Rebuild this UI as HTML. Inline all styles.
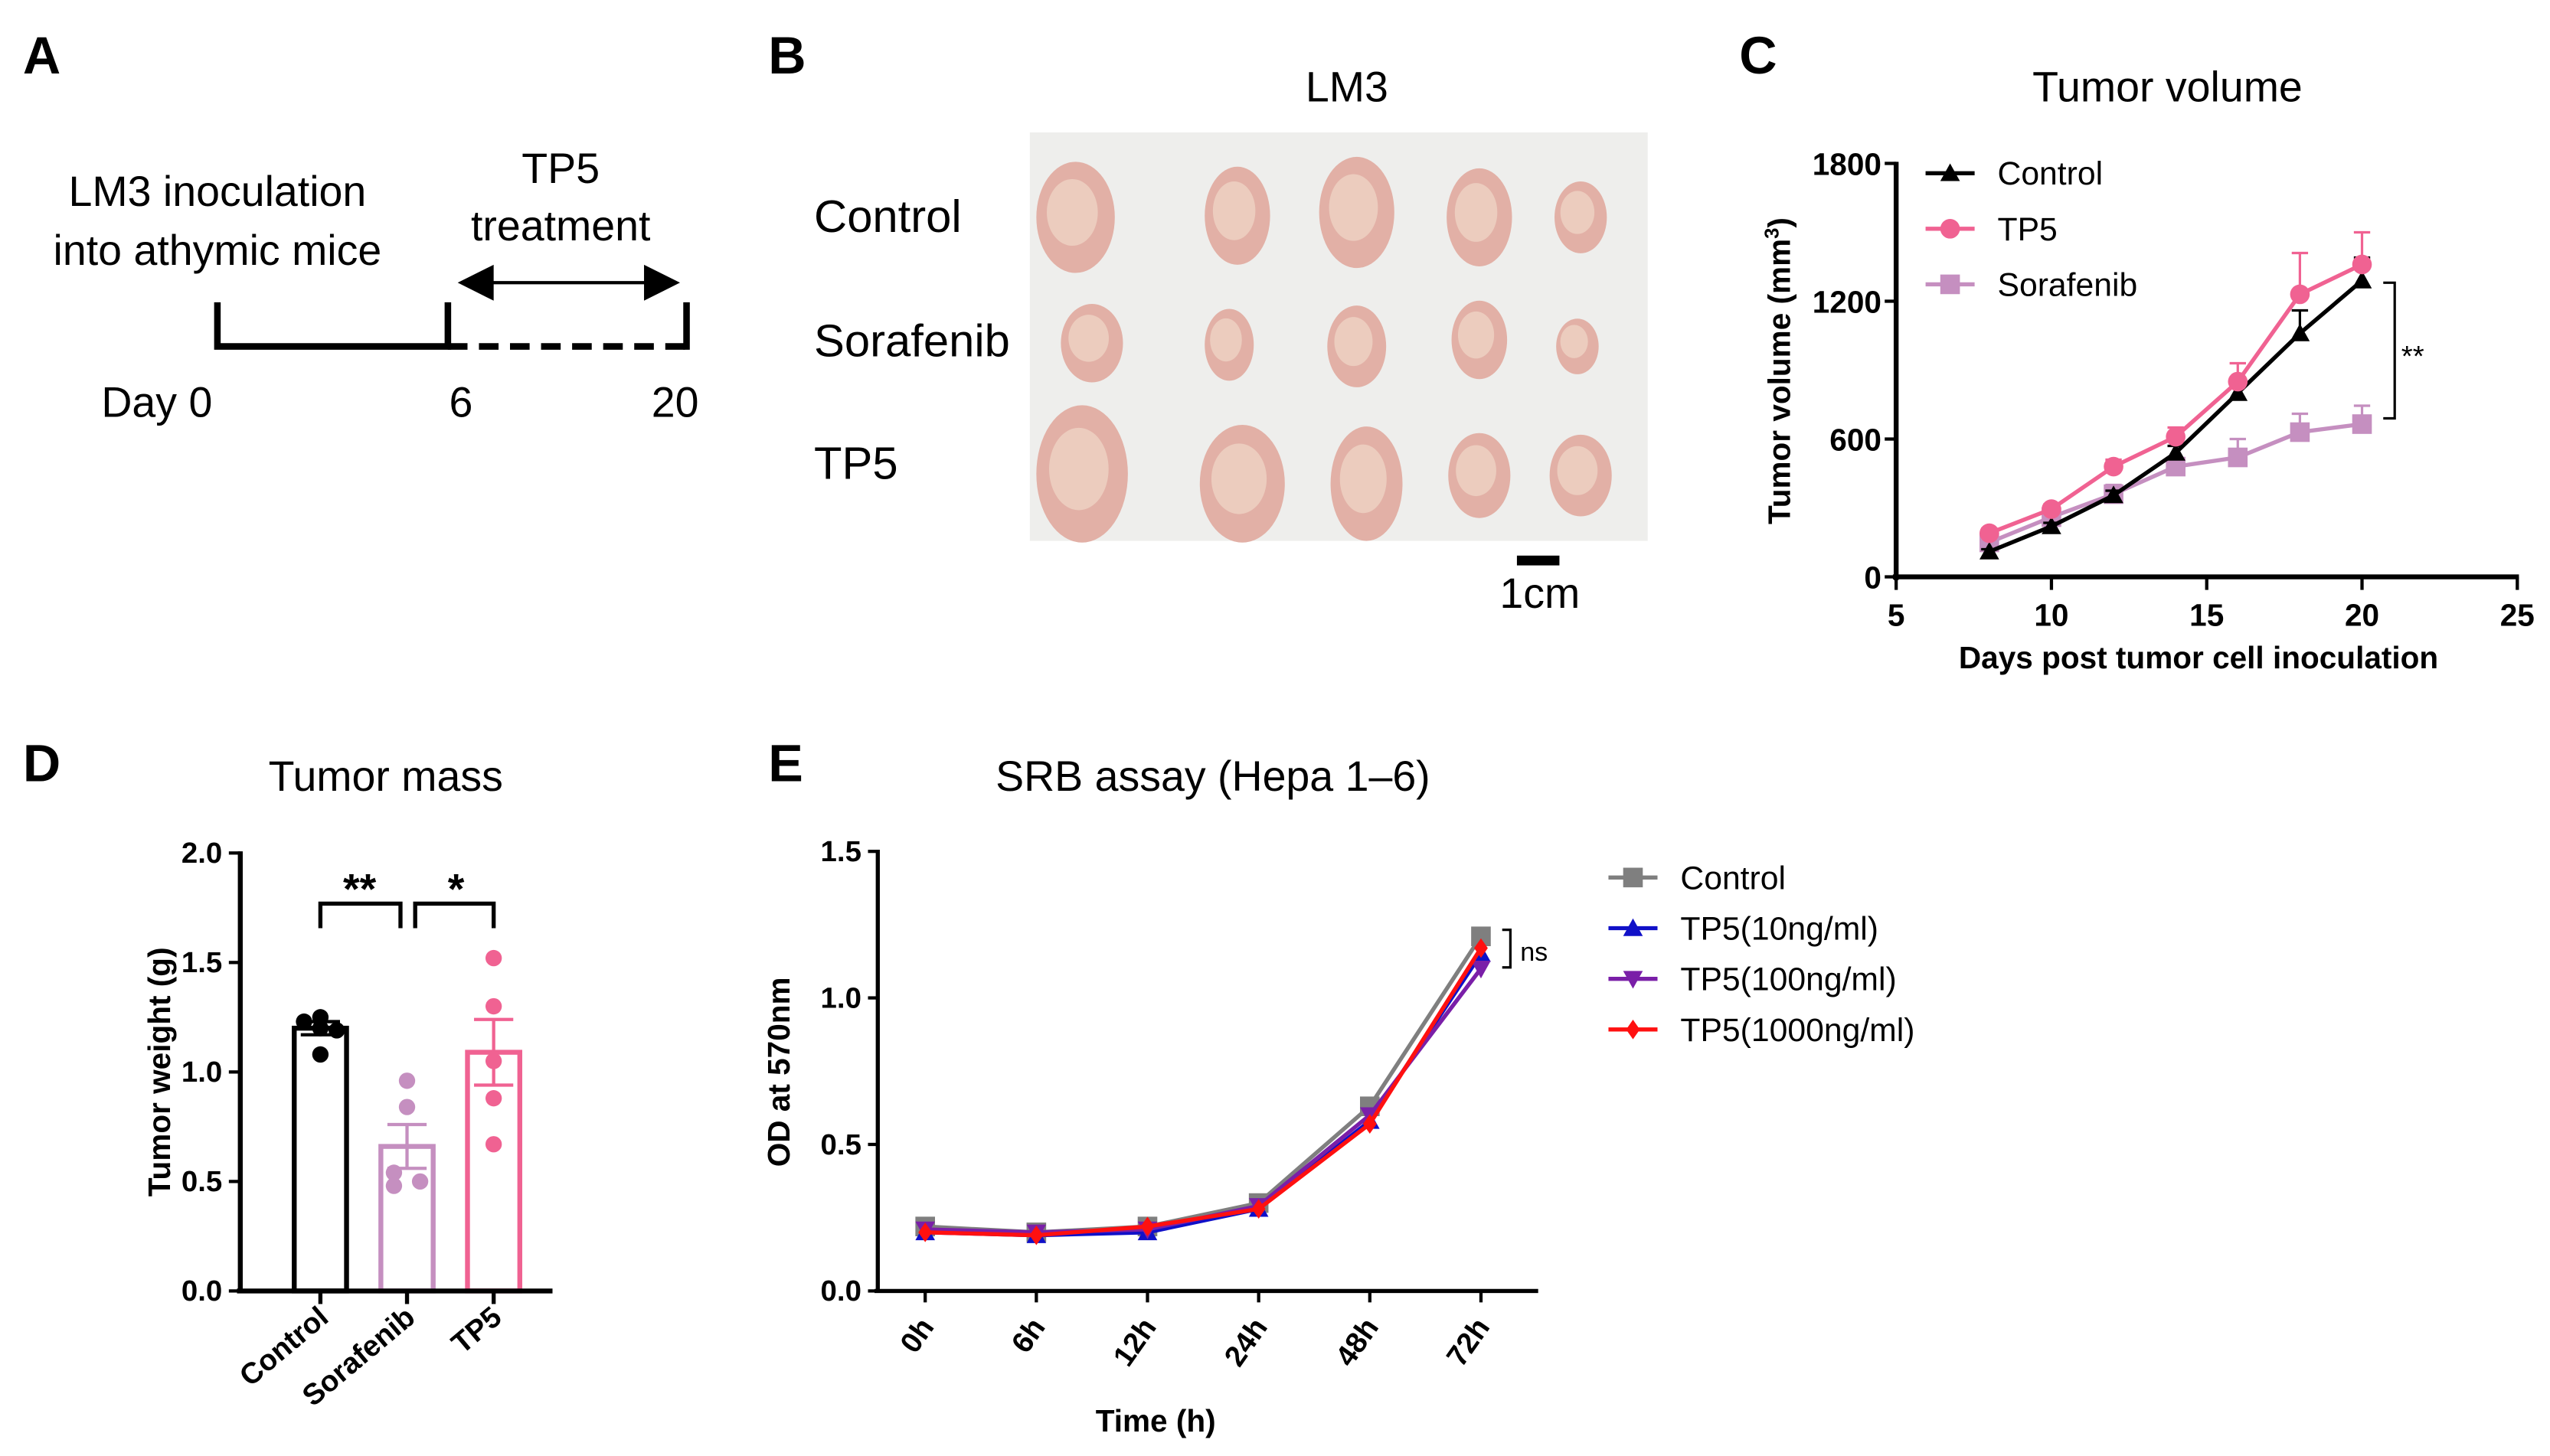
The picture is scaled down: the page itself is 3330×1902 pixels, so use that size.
<!DOCTYPE html>
<html><head><meta charset="utf-8"><style>
html,body{margin:0;padding:0;background:#fff}
svg{display:block}
text{font-family:"Liberation Sans",Arial,sans-serif}
</style></head><body>
<svg id="fig" width="3330" height="1902" viewBox="0 0 1560 891" preserveAspectRatio="none" xmlns="http://www.w3.org/2000/svg">
<rect width="1560" height="891" fill="#fff"/>
<!-- Panel A -->
<g>
<text x="14" y="45" font-size="32" font-weight="bold">A</text>
<text x="133" y="126" font-size="26" text-anchor="middle">LM3 inoculation</text>
<text x="133" y="162" font-size="26" text-anchor="middle">into athymic mice</text>
<text x="343" y="112" font-size="26" text-anchor="middle">TP5</text>
<text x="343" y="147" font-size="26" text-anchor="middle">treatment</text>
<path d="M133 185 V212 H274 V185" fill="none" stroke="#000" stroke-width="4"/>
<path d="M274 212 H420" fill="none" stroke="#000" stroke-width="4" stroke-dasharray="12,7"/>
<line x1="420" y1="185" x2="420" y2="214" stroke="#000" stroke-width="4"/>
<line x1="295" y1="173" x2="398" y2="173" stroke="#000" stroke-width="2"/>
<polygon points="280,173 302,162 302,184" fill="#000"/>
<polygon points="416,173 394,162 394,184" fill="#000"/>
<text x="62" y="255" font-size="26">Day 0</text>
<text x="282" y="255" font-size="26" text-anchor="middle">6</text>
<text x="413" y="255" font-size="26" text-anchor="middle">20</text>
</g>
<!-- Panel B -->
<g>
<text x="470" y="45" font-size="32" font-weight="bold">B</text>
<text x="824" y="62" font-size="26" text-anchor="middle">LM3</text>
<text x="498" y="142" font-size="28">Control</text>
<text x="498" y="218" font-size="28">Sorafenib</text>
<text x="498" y="293" font-size="28">TP5</text>
<rect x="630" y="81" width="378" height="250" fill="#eeeeec"/>
<g id="tumors"></g>
<rect x="928" y="340" width="26" height="6" fill="#000"/>
<text x="942" y="372" font-size="26" text-anchor="middle">1cm</text>
</g>
<!-- Panel C -->
<g id="pc">
<text x="1064" y="45" font-size="32" font-weight="bold">C</text>
<text x="1326" y="62" font-size="26" text-anchor="middle">Tumor volume</text>
<text transform="translate(1095,227) rotate(-90)" font-size="19" font-weight="bold" text-anchor="middle">Tumor volume (mm<tspan font-size="12" dy="-7">3</tspan><tspan dy="7">)</tspan></text>
<text x="1345" y="409" font-size="19" font-weight="bold" text-anchor="middle">Days post tumor cell inoculation</text>
</g>
<!-- Panel D -->
<g id="pd">
<text x="14" y="478" font-size="32" font-weight="bold">D</text>
<text x="236" y="484" font-size="26" text-anchor="middle">Tumor mass</text>
<text transform="translate(104,656) rotate(-90)" font-size="19" font-weight="bold" text-anchor="middle">Tumor weight (g)</text>
</g>
<!-- Panel E -->
<g id="pe">
<text x="470" y="478" font-size="32" font-weight="bold">E</text>
<text x="742" y="484" font-size="26" text-anchor="middle">SRB assay (Hepa 1–6)</text>
<text transform="translate(483,656) rotate(-90)" font-size="19" font-weight="bold" text-anchor="middle">OD at 570nm</text>
<text x="707" y="876" font-size="19" font-weight="bold" text-anchor="middle">Time (h)</text>
</g>
</svg>
<script>
// Panel C data
const cDays=[8,10,12,14,16,18,20];
const cControl=[110,220,355,540,800,1060,1290];
const cControlErr=[10,15,20,30,30,100,100];
const cTP5=[190,295,480,610,850,1230,1360];
const cTP5Err=[20,20,30,40,80,180,140];
const cSora=[150,260,360,480,520,630,665];
const cSoraErr=[20,20,40,30,80,80,80];
const cYTicks=[0,600,1200,1800];
const cXTicks=[5,10,15,20,25];
// Panel D data
const dGroups=["Control","Sorafenib","TP5"];
const dMeans=[1.2,0.66,1.09];
const dSem=[0.03,0.1,0.15];
const dDots=[[1.23,1.25,1.19,1.2,1.08],[0.96,0.84,0.54,0.48,0.5],[1.52,1.3,1.05,0.88,0.67]];
const dYTicks=[0,0.5,1.0,1.5,2.0];
// Panel E data
const eTimes=["0h","6h","12h","24h","48h","72h"];
const eControl=[0.22,0.2,0.22,0.3,0.63,1.21];
const eTP10=[0.2,0.19,0.2,0.28,0.58,1.15];
const eTP100=[0.21,0.2,0.21,0.29,0.6,1.1];
const eTP1000=[0.2,0.19,0.22,0.28,0.57,1.17];
const eYTicks=[0.0,0.5,1.0,1.5];

const NS="http://www.w3.org/2000/svg";
function mk(parent,tag,attrs,txt){const e=document.createElementNS(NS,tag);for(const k in attrs)e.setAttribute(k,attrs[k]);if(txt!==undefined)e.textContent=txt;parent.appendChild(e);return e;}

// tumors (photo decoration)
const tg=document.getElementById('tumors');
const tum=[[658,133,24,34],[757,132,20,30],[830,130,23,34],[905,133,20,30],[967,133,16,22],
[668,210,19,24],[752,211,15,22],[830,212,18,25],[905,208,17,24],[965,212,13,17],
[662,290,28,42],[760,296,26,36],[836,296,22,35],[905,291,19,26],[967,291,19,25]];
tum.forEach(t=>{const e=mk(tg,'ellipse',{cx:t[0],cy:t[1],rx:t[2],ry:t[3],fill:'#e2b0a6'});


const h=mk(tg,'ellipse',{cx:t[0]-2,cy:t[1]-3,rx:t[2]*0.65,ry:t[3]*0.6,fill:'#ecccbe'});

});

function marker(p,x,y,shape,col,r){
 if(shape==='sq')mk(p,'rect',{x:x-r,y:y-r,width:2*r,height:2*r,fill:col});
 else if(shape==='circ')mk(p,'circle',{cx:x,cy:y,r:r,fill:col});
 else if(shape==='tri')mk(p,'polygon',{points:`${x},${y-r} ${x-r},${y+r*0.8} ${x+r},${y+r*0.8}`,fill:col});
 else if(shape==='itri')mk(p,'polygon',{points:`${x},${y+r} ${x-r},${y-r*0.8} ${x+r},${y-r*0.8}`,fill:col});
 else if(shape==='dia')mk(p,'polygon',{points:`${x},${y-r} ${x-r*0.7},${y} ${x},${y+r} ${x+r*0.7},${y}`,fill:col});
}

// Panel C
(function(){
const g=document.getElementById('pc');
const X=d=>1160+(d-5)*(380/20), Y=v=>353-v*(253/1800);
mk(g,'line',{x1:1160,y1:99,x2:1160,y2:355,stroke:'#000','stroke-width':3});
mk(g,'line',{x1:1158,y1:353,x2:1541,y2:353,stroke:'#000','stroke-width':3});
cYTicks.forEach(v=>{mk(g,'line',{x1:1153,y1:Y(v),x2:1160,y2:Y(v),stroke:'#000','stroke-width':2});
const t=mk(g,'text',{x:1151,y:Y(v)+7,'font-size':19,'font-weight':'bold','text-anchor':'end'},v);

});
cXTicks.forEach(v=>{mk(g,'line',{x1:X(v),y1:353,x2:X(v),y2:361,stroke:'#000','stroke-width':2});
const t=mk(g,'text',{x:X(v),y:383,'font-size':19,'font-weight':'bold','text-anchor':'middle'},v);

});
function series(vals,errs,col,shape,name){
 const sg=mk(g,'g',{});
 
 
 vals.forEach((v,i)=>{const x=X(cDays[i]),y=Y(v),ye=Y(v+errs[i]);
  mk(sg,'line',{x1:x,y1:y,x2:x,y2:ye,stroke:col,'stroke-width':1.5});
  mk(sg,'line',{x1:x-5,y1:ye,x2:x+5,y2:ye,stroke:col,'stroke-width':1.5});});
 mk(sg,'polyline',{points:vals.map((v,i)=>X(cDays[i])+','+Y(v)).join(' '),fill:'none',stroke:col,'stroke-width':2.5});
 vals.forEach((v,i)=>marker(sg,X(cDays[i]),Y(v),shape,col,6));
}
series(cSora,cSoraErr,'#c58fc0','sq','series-sorafenib');
series(cControl,cControlErr,'#000','tri','series-control');
series(cTP5,cTP5Err,'#f06292','circ','series-tp5');
mk(g,'path',{d:'M1458 173 H1465 V256 H1458',fill:'none',stroke:'#000','stroke-width':1.5});
mk(g,'text',{x:1469,y:224,'font-size':18},'**');
const leg=[['Control','#000','tri'],['TP5','#f06292','circ'],['Sorafenib','#c58fc0','sq']];
leg.forEach((l,i)=>{const y=106+i*34;const lg=mk(g,'g',{});
 
 
 mk(lg,'line',{x1:1178,y1:y,x2:1208,y2:y,stroke:l[1],'stroke-width':2.5});
 marker(lg,1193,y,l[2],l[1],6);
 mk(lg,'text',{x:1222,y:y+7,'font-size':20},l[0]);});
})();

// Panel D
(function(){
const g=document.getElementById('pd');
const Y=v=>790-v*(268/2);
const cx=[196,249,302], cols=['#000','#c58fc0','#f06292'];
const dx=[[-10,0,10,0,0],[0,0,-8,-8,8],[0,0,0,0,0]];
cx.forEach((x,i)=>{const bg=mk(g,'g',{});
 
 
 mk(bg,'rect',{x:x-16,y:Y(dMeans[i]),width:32,height:790-Y(dMeans[i]),fill:'none',stroke:cols[i],'stroke-width':3});
 const t=Y(dMeans[i]+dSem[i]),b=Y(dMeans[i]-dSem[i]);
 mk(bg,'line',{x1:x,y1:t,x2:x,y2:b,stroke:cols[i],'stroke-width':2});
 mk(bg,'line',{x1:x-12,y1:t,x2:x+12,y2:t,stroke:cols[i],'stroke-width':2});
 mk(bg,'line',{x1:x-12,y1:b,x2:x+12,y2:b,stroke:cols[i],'stroke-width':2});
 dDots[i].forEach((v,j)=>mk(bg,'circle',{cx:x+dx[i][j],cy:Y(v),r:5,fill:cols[i]}));
 mk(g,'line',{x1:x,y1:790,x2:x,y2:798,stroke:'#000','stroke-width':2.5});
 const lb=mk(g,'text',{transform:`translate(${x+6},${808}) rotate(-40)`,'font-size':18,'font-weight':'bold','text-anchor':'end'},dGroups[i]);
 
 });
mk(g,'line',{x1:147,y1:521,x2:147,y2:791,stroke:'#000','stroke-width':3});
mk(g,'line',{x1:145,y1:790,x2:338,y2:790,stroke:'#000','stroke-width':3});
dYTicks.forEach(v=>{mk(g,'line',{x1:140,y1:Y(v),x2:147,y2:Y(v),stroke:'#000','stroke-width':2});
 const t=mk(g,'text',{x:136,y:Y(v)+6,'font-size':18,'font-weight':'bold','text-anchor':'end'},v.toFixed(1));
 
 });
mk(g,'path',{d:'M196 568 V553 H245 V568',fill:'none',stroke:'#000','stroke-width':2.5});
mk(g,'path',{d:'M254 568 V553 H302 V568',fill:'none',stroke:'#000','stroke-width':2.5});
mk(g,'text',{x:220,y:553,'font-size':26,'font-weight':'bold','text-anchor':'middle'},'**');
mk(g,'text',{x:279,y:553,'font-size':26,'font-weight':'bold','text-anchor':'middle'},'*');
})();

// Panel E
(function(){
const g=document.getElementById('pe');
const X=i=>566+i*68, Y=v=>790-v*(269/1.5);
mk(g,'line',{x1:537,y1:520,x2:537,y2:791,stroke:'#000','stroke-width':2.5});
mk(g,'line',{x1:535,y1:790,x2:941,y2:790,stroke:'#000','stroke-width':2.5});
eYTicks.forEach(v=>{mk(g,'line',{x1:531,y1:Y(v),x2:537,y2:Y(v),stroke:'#000','stroke-width':2});
 const t=mk(g,'text',{x:527,y:Y(v)+6,'font-size':18,'font-weight':'bold','text-anchor':'end'},v.toFixed(1));
 
 });
eTimes.forEach((l,i)=>{mk(g,'line',{x1:X(i),y1:790,x2:X(i),y2:797,stroke:'#000','stroke-width':2});
 const t=mk(g,'text',{transform:`translate(${X(i)+6},${812}) rotate(-55)`,'font-size':18,'font-weight':'bold','text-anchor':'end'},l);
 
 });
const S=[[eControl,'#7f7f7f','sq','Control'],[eTP10,'#1010c8','tri','TP5(10ng/ml)'],[eTP100,'#7a1fa8','itri','TP5(100ng/ml)'],[eTP1000,'#ff1010','dia','TP5(1000ng/ml)']];
S.forEach((s,k)=>{const sg=mk(g,'g',{});
 
 
 mk(sg,'polyline',{points:s[0].map((v,i)=>X(i)+','+Y(v)).join(' '),fill:'none',stroke:s[1],'stroke-width':2.5});
 s[0].forEach((v,i)=>marker(sg,X(i),Y(v),s[2],s[1],6));
 const y=537+k*31;const lg=mk(g,'g',{});
 
 
 mk(lg,'line',{x1:984,y1:y,x2:1014,y2:y,stroke:s[1],'stroke-width':2.5});
 marker(lg,999,y,s[2],s[1],6);
 mk(lg,'text',{x:1028,y:y+7,'font-size':20},s[3]);});
mk(g,'path',{d:'M919 569 H924 V592 H919',fill:'none',stroke:'#000','stroke-width':1.5});
mk(g,'text',{x:930,y:588,'font-size':16},'ns');
})();
</script>
</body></html>
